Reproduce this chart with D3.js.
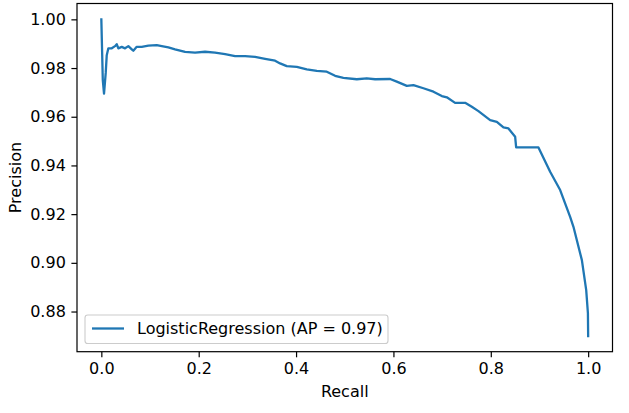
<!DOCTYPE html>
<html>
  <head>
    <meta charset="utf-8">
    <title>Precision-Recall</title>
    <script type="text/javascript" src="https://d3js.org/d3.v7.min.js"></script>
    <style>
      html, body { margin: 0; background: #fff; }
      svg text { font-family: "DejaVu Sans", sans-serif; fill: #000; }
    </style>
  </head>
  <body>
    <script>
    // values
    var recall = [0, 0.003, 0.0055, 0.009, 0.0111, 0.0144, 0.0214, 0.0281, 0.0316, 0.0349, 0.0419, 0.0487, 0.0555,
                  0.0625, 0.0657, 0.0727, 0.0830, 0.0966, 0.1138, 0.1241, 0.1377, 0.1514, 0.1720, 0.1925, 0.2131,
                  0.2336, 0.2542, 0.2747, 0.2953, 0.3158, 0.3364, 0.3569, 0.3672, 0.3809, 0.4015, 0.4220, 0.4426,
                  0.4631, 0.4802, 0.4972, 0.5248, 0.5453, 0.5624, 0.5932, 0.6069, 0.6275, 0.6411, 0.6616, 0.6822,
                  0.6994, 0.7097, 0.7267, 0.7473, 0.7610, 0.7746, 0.7987, 0.8124, 0.8260, 0.8363, 0.8500, 0.8521,
                  0.8979, 0.9219, 0.9425, 0.9630, 0.9698, 0.9871, 0.9960, 0.9995, 1.0];
    var precision = [1.0, 0.975, 0.9695, 0.978, 0.9853, 0.9881, 0.9881, 0.9890, 0.9898, 0.9881, 0.9887, 0.9881, 0.9890,
                     0.9877, 0.9871, 0.9887, 0.9887, 0.9892, 0.9894, 0.9890, 0.9885, 0.9877, 0.9866, 0.9863, 0.9867,
                     0.9863, 0.9857, 0.9849, 0.9849, 0.9846, 0.9838, 0.9830, 0.9819, 0.9808, 0.9805, 0.9795, 0.9788,
                     0.9785, 0.9768, 0.9760, 0.9754, 0.9758, 0.9754, 0.9755, 0.9744, 0.9727, 0.9730, 0.9717, 0.9703,
                     0.9685, 0.9680, 0.9657, 0.9657, 0.9641, 0.9623, 0.9586, 0.9579, 0.9556, 0.9552, 0.9518, 0.9474,
                     0.9474, 0.9374, 0.9299, 0.9189, 0.9148, 0.9011, 0.8888, 0.8793, 0.8699];
    var xTicks = [0, 0.2, 0.4, 0.6, 0.8, 1.0];
    var yTicks = [0.88, 0.90, 0.92, 0.94, 0.96, 0.98, 1.00];
    var seriesName = "LogisticRegression (AP = 0.97)";

    var W = 629, H = 413;
    var axLeft = 77, axRight = 612.5, axTop = 3.5, axBottom = 351.7;
    var fs = "16px";

    var svg = d3.select("body").append("svg")
                .attr("width", W).attr("height", H);

    var x = d3.scaleLinear().domain([-0.05, 1.05]).range([axLeft, axRight]);
    var y = d3.scaleLinear().domain([0.86350, 1.00651]).range([axBottom, axTop]);

    var line = d3.line()
                 .x(function(d, i) { return x(recall[i]); })
                 .y(function(d, i) { return y(precision[i]); });

    svg.append("path")
       .datum(recall)
       .attr("d", line)
       .attr("fill", "none")
       .attr("stroke", "#1f77b4")
       .attr("stroke-width", 2.3)
       .attr("stroke-linejoin", "round")
       .attr("stroke-linecap", "square");

    var xAxis = d3.axisBottom(x).tickValues(xTicks).tickFormat(d3.format(".1f")).tickSize(5.6).tickPadding(5.8);
    var yAxis = d3.axisLeft(y).tickValues(yTicks).tickFormat(d3.format(".2f")).tickSize(5.6).tickPadding(5.6);

    var gx = svg.append("g").attr("transform", "translate(0," + axBottom + ")").call(xAxis);
    var gy = svg.append("g").attr("transform", "translate(" + axLeft + ",0)").call(yAxis);
    [gx, gy].forEach(function(g) {
      g.select(".domain").remove();
      g.selectAll("line").attr("stroke", "#000").attr("stroke-width", 1.2);
      g.selectAll("text").attr("font-size", fs).attr("font-family", "DejaVu Sans").attr("fill", "#000");
    });

    // frame
    svg.append("rect")
       .attr("x", axLeft).attr("y", axTop)
       .attr("width", axRight - axLeft).attr("height", axBottom - axTop)
       .attr("fill", "none").attr("stroke", "#000").attr("stroke-width", 1.2);

    svg.append("text")
       .attr("x", (axLeft + axRight) / 2).attr("y", 396.5)
       .attr("text-anchor", "middle").attr("font-size", fs)
       .text("Recall");

    svg.append("text")
       .attr("transform", "translate(20.5," + (axTop + axBottom) / 2 + ") rotate(-90)")
       .attr("text-anchor", "middle").attr("font-size", fs)
       .text("Precision");

    // legend
    var lg = svg.append("g");
    lg.append("rect")
      .attr("x", 85).attr("y", 315).attr("width", 303).attr("height", 28.5)
      .attr("rx", 2.8)
      .attr("fill", "#fff").attr("fill-opacity", 0.8)
      .attr("stroke", "#cccccc").attr("stroke-width", 1.1);
    lg.append("line")
      .attr("x1", 92).attr("x2", 124).attr("y1", 328.5).attr("y2", 328.5)
      .attr("stroke", "#1f77b4").attr("stroke-width", 2.3);
    lg.append("text")
      .attr("x", 137).attr("y", 334.3).attr("font-size", fs)
      .text(seriesName);
    </script>
  </body>
</html>
